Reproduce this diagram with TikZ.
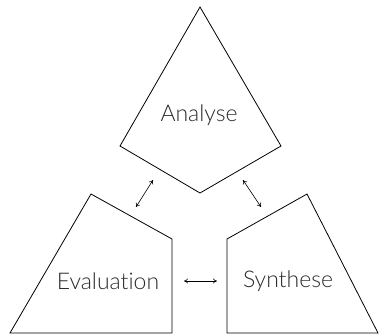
\documentclass[tikz,border=0pt]{standalone}
\usepackage{fontspec}
\setmainfont[Ligatures={NoCommon}]{Lato Light}
\usepackage{xcolor}
\usepackage{tikz}
\definecolor{labelgray}{HTML}{2A2A2A}
\usetikzlibrary{arrows.meta, positioning, calc}

\begin{document}
\begin{tikzpicture}[
    x=1pt, y=-1pt,
    phase/.style={draw, line width=0.8pt, line join=miter},
    phaselabel/.style={text=labelgray, font=\fontsize{23}{26}\selectfont},
    link/.style={{To[length=4pt,width=5pt]}-{To[length=4pt,width=5pt]}, line width=0.6pt},
]
\useasboundingbox (0,0) rectangle (379,335);
% the three phases
\draw[phase] (200,7) -- (281,146) -- (200,193) -- (120,146) -- cycle;
\draw[phase] (91,194) -- (172,239) -- (172,333) -- (10,333) -- cycle;
\draw[phase] (307,194) -- (378,333) -- (227,333) -- (227,239) -- cycle;
\node[phaselabel] (analyse) at (199,115) {Analyse};
\node[phaselabel] (evaluation) at (108,281) {Evaluation};
\node[phaselabel] (synthese) at (288,281) {Synthese};

% arrow ends
\coordinate (ae) at (153,180);
\coordinate (ea) at (136,207);
\coordinate (as) at (243,180);
\coordinate (sa) at (261,207);
\coordinate (es) at (184,281);
\coordinate (se) at (217,281);

\draw[link] (ae) -- (ea);
\draw[link] (as) -- (sa);
\draw[link] (es) -- (se);
\end{tikzpicture}
\end{document}
